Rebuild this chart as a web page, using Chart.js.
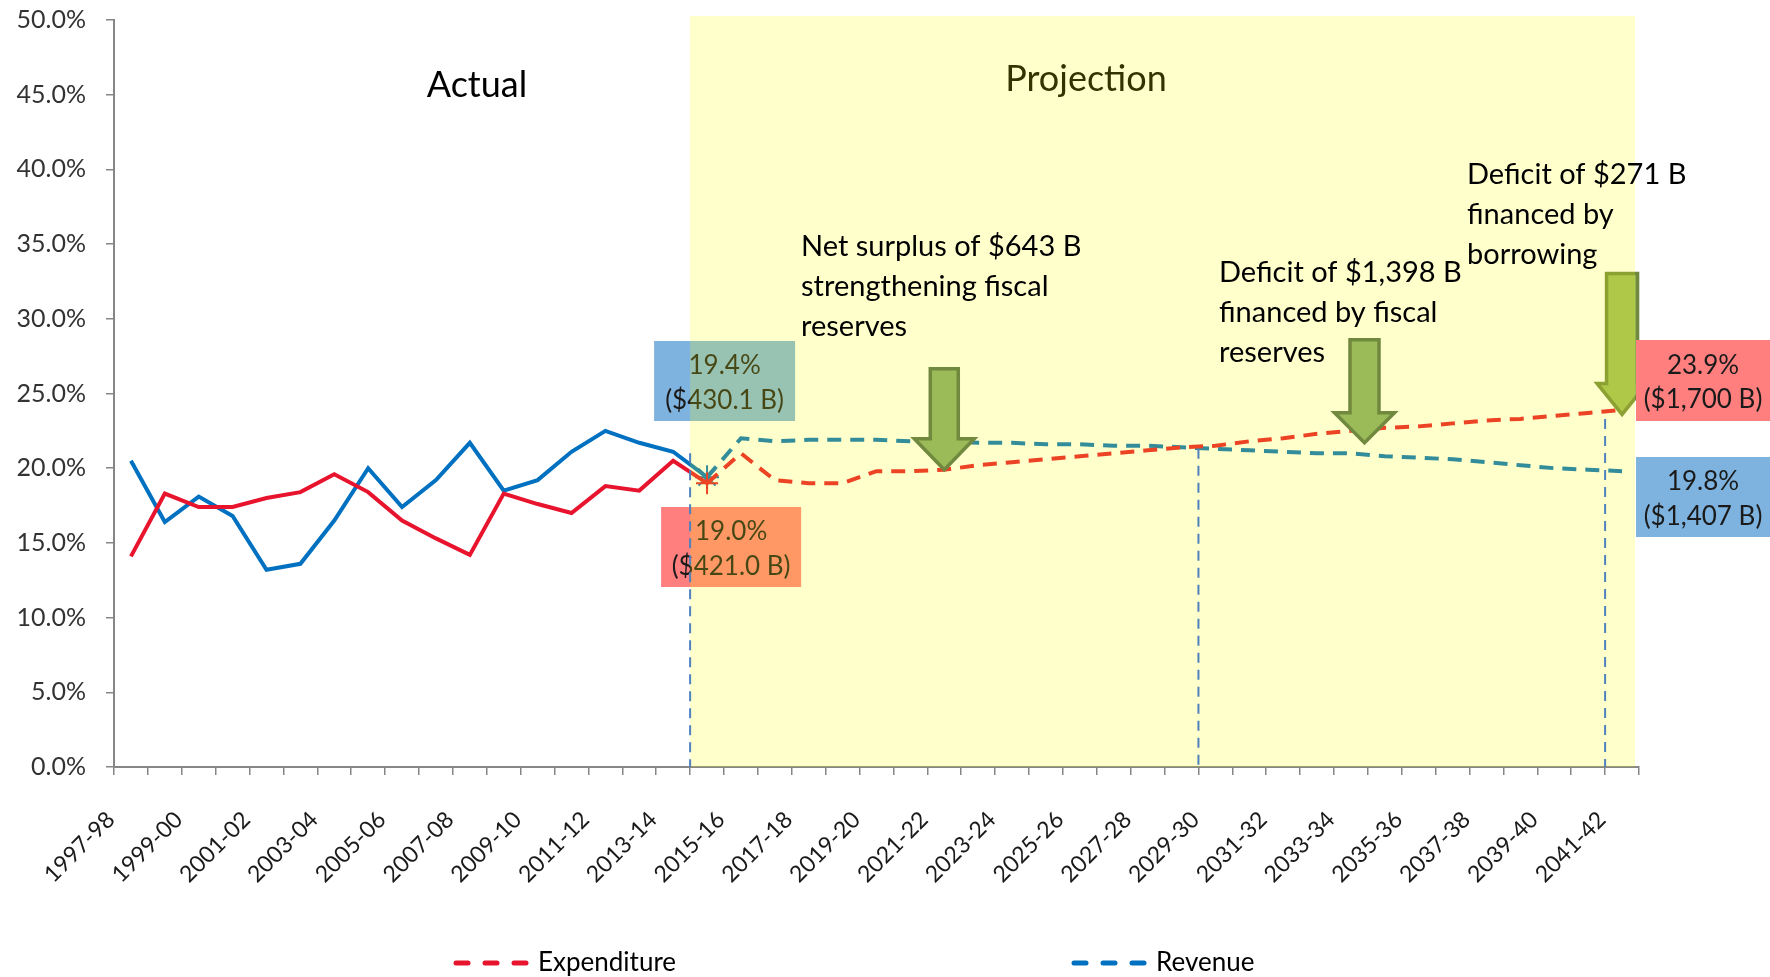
<!DOCTYPE html>
<html>
<head>
<meta charset="utf-8">
<script src="https://cdn.jsdelivr.net/npm/chart.js@4.4.1/dist/chart.umd.min.js"></script>
<style>
  html, body { margin: 0; padding: 0; background: #fff; }
  #wrap { width: 1770px; height: 977px; }
</style>
</head>
<body>
<div id="wrap"><canvas id="fiscalChart"></canvas></div>
<script>
// fiscal years on the x axis
var years = ['1997-98', '1998-99', '1999-00', '2000-01', '2001-02', '2002-03', '2003-04', '2004-05',
    '2005-06', '2006-07', '2007-08', '2008-09', '2009-10', '2010-11', '2011-12', '2012-13',
    '2013-14', '2014-15', '2015-16', '2016-17', '2017-18', '2018-19', '2019-20', '2020-21',
    '2021-22', '2022-23', '2023-24', '2024-25', '2025-26', '2026-27', '2027-28', '2028-29',
    '2029-30', '2030-31', '2031-32', '2032-33', '2033-34', '2034-35', '2035-36', '2036-37',
    '2037-38', '2038-39', '2039-40', '2040-41', '2041-42'];

// % of GDP, actual up to 2014-15, projection after
var expenditure = [14.1, 18.3, 17.4, 17.4, 18.0, 18.4, 19.6, 18.4, 16.5, 15.3, 14.2, 18.3, 17.6, 17.0, 18.8, 18.5,
    20.5, 19.0, 21.0, 19.2, 19.0, 19.0, 19.8, 19.8, 19.9, 20.2, 20.4, 20.6, 20.8, 21.0, 21.2, 21.4,
    21.5, 21.8, 22.0, 22.3, 22.5, 22.7, 22.8, 23.0, 23.2, 23.3, 23.5, 23.7, 23.9];
var revenue = [20.5, 16.4, 18.1, 16.8, 13.2, 13.6, 16.5, 20.0, 17.4, 19.2, 21.7, 18.5, 19.2, 21.1, 22.5, 21.7,
    21.1, 19.4, 22.0, 21.8, 21.9, 21.9, 21.9, 21.8, 21.8, 21.7, 21.7, 21.6, 21.6, 21.5, 21.5, 21.4,
    21.3, 21.2, 21.1, 21.0, 21.0, 20.8, 20.7, 20.6, 20.4, 20.2, 20.0, 19.9, 19.8];
var lastActual = 17; // index of 2014-15

// dollar amounts shown in the boxes (first actual year / last projected year)
var expenditureB = ['$421.0 B', '$1,700 B'];
var revenueB = ['$430.1 B', '$1,407 B'];

var note1 = ['Net surplus of $643 B', 'strengthening fiscal', 'reserves'];
var note2 = ['Deficit of $1,398 B', 'financed by fiscal', 'reserves'];
var note3 = ['Deficit of $271 B', 'financed by', 'borrowing'];

var FONT = 'Lato, "Open Sans", sans-serif';
var RED = '#E8142D';
var BLUE = '#0070C0';

function valueBox(ctx, x, y, w, h, color, lines) {
    ctx.fillStyle = color;
    ctx.fillRect(x, y, w, h);
    ctx.fillStyle = '#1a1a1a';
    ctx.font = '26px ' + FONT;
    ctx.textAlign = 'center';
    ctx.textBaseline = 'middle';
    ctx.fillText(lines[0], x + w / 2, y + h * 0.31);
    ctx.fillText(lines[1], x + w / 2, y + h * 0.74);
}

function downArrow(ctx, tx, ty, shaftW, headW, headH, total, fill, stroke) {
    ctx.beginPath();
    ctx.moveTo(tx, ty);
    ctx.lineTo(tx - headW / 2, ty - headH);
    ctx.lineTo(tx - shaftW / 2, ty - headH);
    ctx.lineTo(tx - shaftW / 2, ty - total);
    ctx.lineTo(tx + shaftW / 2, ty - total);
    ctx.lineTo(tx + shaftW / 2, ty - headH);
    ctx.lineTo(tx + headW / 2, ty - headH);
    ctx.closePath();
    ctx.fillStyle = fill;
    ctx.fill();
    ctx.lineWidth = 3.5;
    ctx.lineJoin = 'miter';
    ctx.strokeStyle = stroke;
    ctx.stroke();
}

function noteText(ctx, lines, x, y) {
    ctx.fillStyle = '#000';
    ctx.font = '29px ' + FONT;
    ctx.textAlign = 'left';
    ctx.textBaseline = 'middle';
    lines.forEach(function (t, i) { ctx.fillText(t, x, y + i * 40); });
}

var fiscalDecor = {
    id: 'fiscalDecor',
    beforeDatasetsDraw: function (chart) {
        var ctx = chart.ctx;
        var xb = chart.scales.x.getPixelForValue(lastActual - 0.5);
        ctx.save();
        valueBox(ctx, xb - 36, 341, 141, 80, 'rgb(127,179,223)',
            [revenue[lastActual].toFixed(1) + '%', '(' + revenueB[0] + ')']);
        valueBox(ctx, xb - 29, 507, 140, 80, 'rgb(255,127,127)',
            [expenditure[lastActual].toFixed(1) + '%', '(' + expenditureB[0] + ')']);
        ctx.restore();
    },
    afterDatasetsDraw: function (chart) {
        var ctx = chart.ctx, x = chart.scales.x, y = chart.scales.y, area = chart.chartArea;
        var xb = x.getPixelForValue(lastActual - 0.5);
        ctx.save();

        // heading + last arrow sit under the yellow wash
        ctx.fillStyle = '#000';
        ctx.font = '36px ' + FONT;
        ctx.textAlign = 'center';
        ctx.textBaseline = 'middle';
        ctx.fillText('Projection', 1086, 79);
        downArrow(ctx, x.getPixelForValue(44), y.getPixelForValue(23.6), 31, 50, 31, 141, '#9BBB59', '#71893F');

        // projection period wash
        ctx.fillStyle = 'rgba(255,255,0,0.2)';
        ctx.fillRect(xb, 16, area.right - 4 - xb, area.bottom - 16);

        ctx.fillStyle = '#000';
        ctx.fillText('Actual', 477, 85);

        // vertical guides
        var guides = [[17, 21.0], [32, 21.3], [44, 23.3]];
        ctx.strokeStyle = '#4F81BD';
        ctx.lineWidth = 2;
        ctx.setLineDash([10, 7]);
        guides.forEach(function (g) {
            var gx = x.getPixelForValue(g[0] - 0.5);
            ctx.beginPath();
            ctx.moveTo(gx, y.getPixelForValue(g[1]));
            ctx.lineTo(gx, area.bottom);
            ctx.stroke();
        });
        ctx.setLineDash([]);

        downArrow(ctx, x.getPixelForValue(24), y.getPixelForValue(19.9), 28, 60, 31, 101, '#9BBB59', '#71893F');
        downArrow(ctx, x.getPixelForValue(36.4), y.getPixelForValue(21.7), 29, 60, 30, 103, '#9BBB59', '#71893F');

        noteText(ctx, note1, 801, 247);
        noteText(ctx, note2, 1219, 273);
        noteText(ctx, note3, 1467, 175);

        var n = years.length - 1;
        valueBox(ctx, area.right - 3, 340, 1770 - area.right + 3, 81, 'rgb(255,127,127)',
            [expenditure[n].toFixed(1) + '%', '(' + expenditureB[1] + ')']);
        valueBox(ctx, area.right - 3, 457, 1770 - area.right + 3, 80, 'rgb(127,179,223)',
            [revenue[n].toFixed(1) + '%', '(' + revenueB[1] + ')']);
        ctx.restore();
    },
    afterDraw: function (chart) {
        // legend: dashed swatch + name
        var ctx = chart.ctx;
        var items = [[453, chart.data.datasets[0]], [1071, chart.data.datasets[1]]];
        ctx.save();
        items.forEach(function (it) {
            var x0 = it[0], ds = it[1];
            ctx.strokeStyle = ds.borderColor;
            ctx.lineWidth = 5;
            ctx.lineCap = 'round';
            for (var k = 0; k < 3; k++) {
                ctx.beginPath();
                ctx.moveTo(x0 + 3 + k * 29, 963);
                ctx.lineTo(x0 + 15 + k * 29, 963);
                ctx.stroke();
            }
            ctx.fillStyle = '#000';
            ctx.font = '26px ' + FONT;
            ctx.textAlign = 'left';
            ctx.textBaseline = 'middle';
            ctx.fillText(ds.label, x0 + 85, 963);
        });
        ctx.restore();
    }
};

function dashAfterActual(c) {
    return c.p0DataIndex < lastActual ? [] : undefined;
}

var ctx = document.getElementById('fiscalChart').getContext('2d');
var chart = new Chart(ctx, {
    type: 'line',
    data: {
        labels: years,
        datasets: [{
            label: 'Expenditure',
            data: expenditure,
            borderColor: RED,
            borderWidth: 4,
            borderDash: [14, 9],
            tension: 0,
            fill: false,
            segment: { borderDash: dashAfterActual },
            pointStyle: 'cross',
            pointRadius: function (c) { return c.dataIndex === lastActual ? 11 : 0; },
            pointBorderColor: RED,
            pointBorderWidth: 2
        }, {
            label: 'Revenue',
            data: revenue,
            borderColor: BLUE,
            borderWidth: 4,
            borderDash: [14, 9],
            tension: 0,
            fill: false,
            segment: { borderDash: dashAfterActual },
            pointStyle: 'star',
            pointRadius: function (c) { return c.dataIndex === lastActual ? 12 : 0; },
            pointBorderColor: BLUE,
            pointBorderWidth: 2
        }]
    },
    options: {
        responsive: true,
        maintainAspectRatio: false,
        animation: false,
        layout: { padding: { top: 20, right: 131, left: 0, bottom: 0 } },
        plugins: {
            legend: { display: false },
            tooltip: { enabled: false }
        },
        scales: {
            x: {
                offset: true,
                grid: { offset: true, drawOnChartArea: false, tickLength: 8, color: '#868686', lineWidth: 1.5 },
                border: { color: '#868686', width: 2 },
                ticks: {
                    autoSkip: false,
                    minRotation: 45,
                    maxRotation: 45,
                    padding: 31,
                    labelOffset: -20,
                    color: '#1a1a1a',
                    font: { family: FONT, size: 23 },
                    callback: function (v, i) { return i % 2 === 0 ? years[i] : ''; }
                },
                afterFit: function (s) { s.height = 210; }
            },
            y: {
                min: 0,
                max: 50,
                grid: { drawOnChartArea: false, tickLength: 8, color: '#868686', lineWidth: 1.5 },
                border: { color: '#868686', width: 2 },
                ticks: {
                    stepSize: 5,
                    padding: 20,
                    color: '#333',
                    font: { family: FONT, size: 25 },
                    callback: function (v) { return v.toFixed(1) + '%'; }
                },
                afterFit: function (s) { s.width = 114; s.paddingTop = 0; s.paddingBottom = 0; }
            }
        }
    },
    plugins: [fiscalDecor]
});
</script>
</body>
</html>
